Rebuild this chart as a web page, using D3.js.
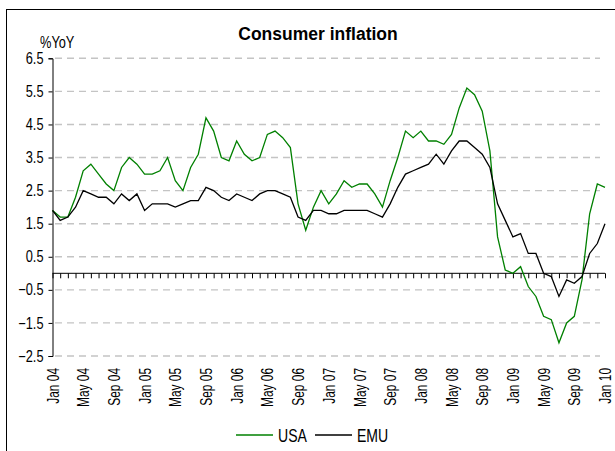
<!DOCTYPE html>
<html>
<head>
<meta charset="utf-8">
<script src="https://cdn.jsdelivr.net/npm/d3@7"></script>
<style>
  body { margin: 0; background: #fff; }
  svg { display: block; }
  .narrow { font-family: "Liberation Sans", Arial, sans-serif; }
</style>
</head>
<body>
<div id="chart"></div>
<script>
// monthly, Jan 04 .. Jan 10
const months = d3.timeMonth.range(new Date(2004, 0, 1), new Date(2010, 1, 1));

const usa = [
  1.9, 1.7, 1.7, 2.3, 3.1, 3.3, 3.0, 2.7, 2.5, 3.2, 3.5, 3.3,
  3.0, 3.0, 3.1, 3.5, 2.8, 2.5, 3.2, 3.6, 4.7, 4.3, 3.5, 3.4,
  4.0, 3.6, 3.4, 3.5, 4.2, 4.3, 4.1, 3.8, 2.1, 1.3, 2.0, 2.5,
  2.1, 2.4, 2.8, 2.6, 2.7, 2.7, 2.4, 2.0, 2.8, 3.5, 4.3, 4.1,
  4.3, 4.0, 4.0, 3.9, 4.2, 5.0, 5.6, 5.4, 4.9, 3.7, 1.1, 0.1,
  0.0, 0.2, -0.4, -0.7, -1.3, -1.4, -2.1, -1.5, -1.3, -0.2, 1.8, 2.7,
  2.6
];

const emu = [
  1.9, 1.6, 1.7, 2.0, 2.5, 2.4, 2.3, 2.3, 2.1, 2.4, 2.2, 2.4,
  1.9, 2.1, 2.1, 2.1, 2.0, 2.1, 2.2, 2.2, 2.6, 2.5, 2.3, 2.2,
  2.4, 2.3, 2.2, 2.4, 2.5, 2.5, 2.4, 2.3, 1.7, 1.6, 1.9, 1.9,
  1.8, 1.8, 1.9, 1.9, 1.9, 1.9, 1.8, 1.7, 2.1, 2.6, 3.0, 3.1,
  3.2, 3.3, 3.6, 3.3, 3.7, 4.0, 4.0, 3.8, 3.6, 3.2, 2.1, 1.6,
  1.1, 1.2, 0.6, 0.6, 0.0, -0.1, -0.7, -0.2, -0.3, -0.1, 0.6, 0.9,
  1.5
];

const yTicks = [6.5, 5.5, 4.5, 3.5, 2.5, 1.5, 0.5, -0.5, -1.5, -2.5];
const xTickLabels = ["Jan 04", "May 04", "Sep 04", "Jan 05", "May 05", "Sep 05",
  "Jan 06", "May 06", "Sep 06", "Jan 07", "May 07", "Sep 07", "Jan 08", "May 08",
  "Sep 08", "Jan 09", "May 09", "Sep 09", "Jan 10"];

const seriesNames = ["USA", "EMU"];
const seriesColors = ["#008000", "#000000"];

const W = 615, H = 451;
const svg = d3.select('#chart').append('svg')
  .attr('width', W).attr('height', H);

// squeeze text to look like a narrow face
function squeeze(sel, k) {
  sel.each(function() {
    const len = this.getComputedTextLength();
    d3.select(this).attr('textLength', len * k).attr('lengthAdjust', 'spacingAndGlyphs');
  });
}

// outer frame (only top/left edges fall inside the picture)
svg.append('rect')
  .attr('x', 6.5).attr('y', 9.5)
  .attr('width', 700).attr('height', 600)
  .attr('fill', 'none').attr('stroke', '#000').attr('stroke-width', 1);

const x = d3.scaleLinear().domain([0, months.length - 1]).range([52.5, 605]);
const y = d3.scaleLinear().domain([-2.5, 6.5]).range([356, 58.3]);

// gridlines
svg.append('g')
  .selectAll('line')
  .data(yTicks)
  .enter().append('line')
  .attr('x1', 55).attr('x2', 600)
  .attr('y1', d => y(d)).attr('y2', d => y(d))
  .attr('stroke', '#c4c4c4')
  .attr('stroke-width', 1.4)
  .attr('stroke-dasharray', '7,5');

// y axis
const yAxis = d3.axisLeft(y).tickValues(yTicks).tickSize(4).tickPadding(5)
  .tickFormat(d3.format('.1f'));
const gy = svg.append('g').attr('transform', 'translate(52.5,0)').call(yAxis);
gy.select('.domain').attr('stroke', '#000');
gy.selectAll('.tick line').attr('stroke', '#000');
gy.selectAll('text')
  .attr('class', 'narrow')
  .style('font-size', '16px')
  .attr('fill', '#000')
  .call(squeeze, 0.8);

// x axis at zero
const monthIdx = d3.range(months.length);
const xAxis = d3.axisBottom(x).tickValues(monthIdx).tickSize(5).tickFormat('');
const gx = svg.append('g').attr('transform', `translate(0,${y(0)})`).call(xAxis);
gx.select('.domain').attr('stroke', '#000').attr('d', `M52.5,0H605`);
gx.selectAll('.tick line').attr('stroke', '#000');

// rotated month labels every 4 months
const fmt = d3.timeFormat('%b %y');
svg.append('g')
  .selectAll('text')
  .data(xTickLabels)
  .enter().append('text')
  .attr('class', 'narrow')
  .attr('transform', d => {
    const i = months.findIndex(m => fmt(m) === d);
    return `translate(${x(i)},368) rotate(-90)`;
  })
  .attr('text-anchor', 'end')
  .attr('dy', '0.36em')
  .style('font-size', '17px')
  .text(d => d)
  .call(squeeze, 0.7);

// lines
const line = d3.line()
  .x((d, i) => x(i))
  .y(d => y(d));

[usa, emu].forEach((s, k) => {
  svg.append('path')
    .datum(s)
    .attr('d', line)
    .attr('fill', 'none')
    .attr('stroke', seriesColors[k])
    .attr('stroke-width', 1.3)
    .attr('stroke-linejoin', 'miter');
});

// title and unit
svg.append('text')
  .attr('x', 318).attr('y', 40)
  .attr('text-anchor', 'middle')
  .style('font-family', '"Liberation Sans", Arial, sans-serif')
  .style('font-weight', 'bold')
  .style('font-size', '17.5px')
  .text('Consumer inflation');

svg.append('text')
  .attr('class', 'narrow')
  .attr('x', 40).attr('y', 48)
  .style('font-size', '16px')
  .text('%YoY')
  .call(squeeze, 0.8);

// legend
const legendX = [236, 315];
const lg = svg.append('g');
seriesNames.forEach((name, k) => {
  lg.append('line')
    .attr('x1', legendX[k]).attr('x2', legendX[k] + 37)
    .attr('y1', 435).attr('y2', 435)
    .attr('stroke', seriesColors[k]).attr('stroke-width', 1.3);
  lg.append('text')
    .attr('class', 'narrow')
    .attr('x', legendX[k] + 42).attr('y', 442)
    .style('font-size', '18px')
    .text(name)
    .call(squeeze, 0.78);
});
</script>
</body>
</html>
